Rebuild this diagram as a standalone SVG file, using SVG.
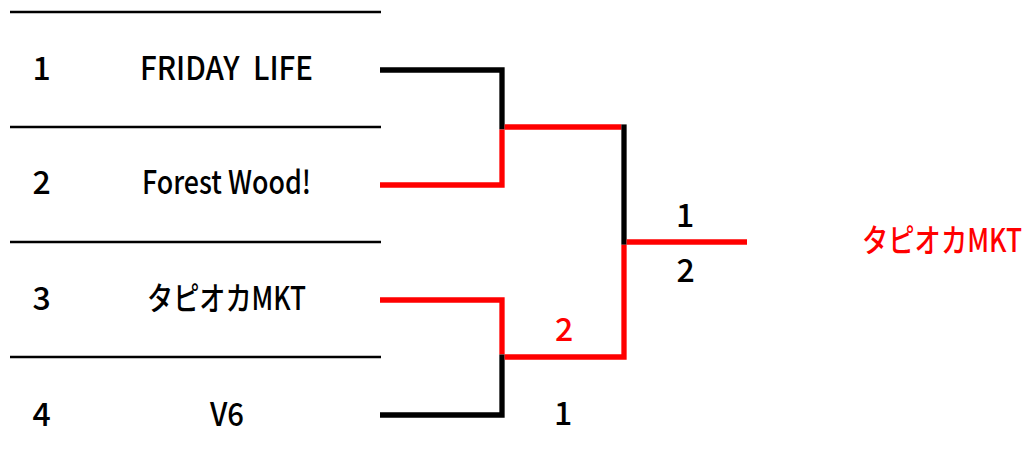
<svg xmlns="http://www.w3.org/2000/svg" width="1034" height="467" viewBox="0 0 1034 467">
  <style>
    .row { stroke: #000; stroke-width: 2.3; fill: none; }
    .blk { stroke: #000; stroke-width: 5.3; fill: none; stroke-linejoin: miter; }
    .red { stroke: #FF0000; stroke-width: 5.3; fill: none; stroke-linejoin: miter; }
    text { font-family: "Noto Sans CJK JP", "Liberation Sans", sans-serif; font-size: 32px; font-weight: 500; fill: #000; }
    .mid { text-anchor: middle; }
    .win { fill: #FF0000; }
  </style>
  <rect width="1034" height="467" fill="#fff"/>

  <g id="row-lines">
    <line class="row" x1="10" y1="12" x2="381" y2="12"/>
    <line class="row" x1="10" y1="127" x2="381" y2="127"/>
    <line class="row" x1="10" y1="242" x2="381" y2="242"/>
    <line class="row" x1="10" y1="357" x2="381" y2="357"/>
  </g>

  <g id="team-1">
    <text class="mid" x="41.5" y="80">1</text>
    <text x="140" y="80" textLength="173" lengthAdjust="spacingAndGlyphs" xml:space="preserve">FRIDAY  LIFE</text>
  </g>
  <g id="team-2">
    <text class="mid" x="41.5" y="194">2</text>
    <text x="142" y="194" textLength="169" lengthAdjust="spacingAndGlyphs">Forest Wood!</text>
  </g>
  <g id="team-3">
    <text class="mid" x="41.5" y="310">3</text>
    <text x="147" y="310" textLength="159" lengthAdjust="spacingAndGlyphs">タピオカMKT</text>
  </g>
  <g id="team-4">
    <text class="mid" x="41.5" y="426">4</text>
    <text x="210" y="426" textLength="34" lengthAdjust="spacingAndGlyphs">V6</text>
  </g>

  <g id="connectors">
    <path class="blk" d="M380,70 H502 V129.5"/>
    <path class="red" d="M380,185 H502 V129.5"/>
    <path class="red" d="M504.6,127 H621.4"/>
    <path class="red" d="M380,300 H502 V354.6"/>
    <path class="blk" d="M502,354.6 V415 H380"/>
    <path class="red" d="M504.6,357 H624 V244.6"/>
    <path class="blk" d="M624,124.4 V244.6"/>
    <path class="red" d="M626.6,242 H747"/>
  </g>

  <g id="scores">
    <text class="mid win" x="564" y="341">2</text>
    <text class="mid" x="563" y="425">1</text>
    <text class="mid" x="685" y="227">1</text>
    <text class="mid" x="685.5" y="282">2</text>
  </g>

  <g id="champion" transform="translate(862,252) scale(0.8333,1)">
    <text class="win" x="0" y="0" textLength="192" lengthAdjust="spacingAndGlyphs">タピオカMKT</text>
  </g>
</svg>
